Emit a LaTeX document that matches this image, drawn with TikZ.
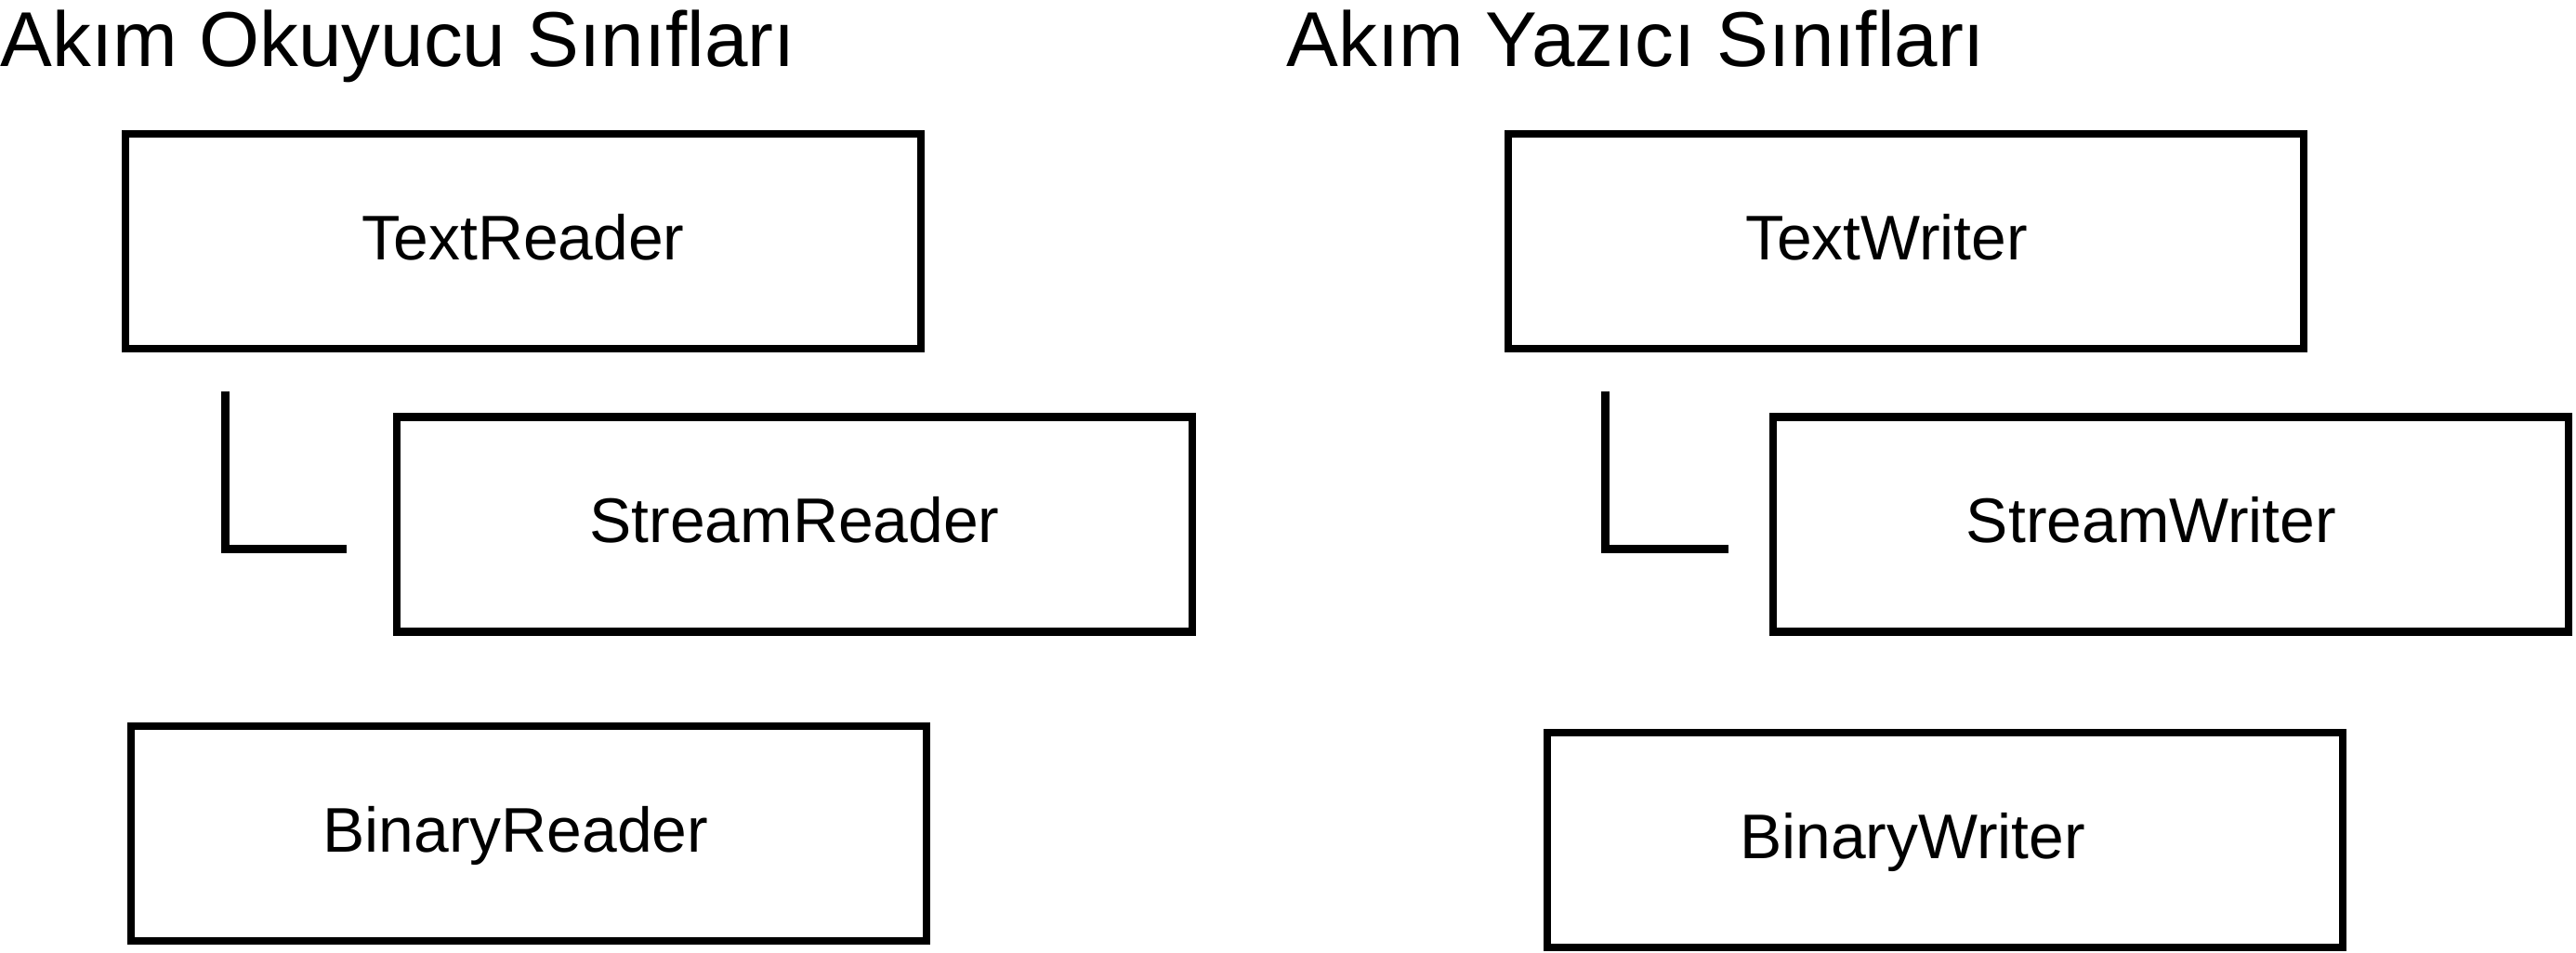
\documentclass[tikz,border=0pt]{standalone}
\usepackage{fontspec}
\setmainfont{Liberation Sans}
\usepackage{xcolor}

\begin{document}
\begin{tikzpicture}[
  kutu/.style={rectangle,draw,line width=0.085cm,inner sep=0pt,outer sep=0pt,minimum width=8.56cm,minimum height=2.31cm},  etiket/.style={anchor=base,inner sep=0pt,font=\fontsize{19.3pt}{22pt}\selectfont},  baslik/.style={anchor=base west,inner sep=0pt,font=\fontsize{23.8pt}{27pt}\selectfont},  kol/.style={line width=0.09cm}
]
  \useasboundingbox (0,0) rectangle (27.72,-10.24);
  \node[baslik] (t1) at (0.00,-0.71) {Akım Okuyucu Sınıfları};
  \node[baslik] (t2) at (13.84,-0.71) {Akım Yazıcı Sınıfları};
  \node[kutu] (tr) at (5.630,-2.595) {};
  \node[kutu] (sr) at (8.550,-5.640) {};
  \node[kutu] (br) at (5.690,-8.965) {};
  \node[kutu] (tw) at (20.510,-2.595) {};
  \node[kutu] (sw) at (23.360,-5.640) {};
  \node[kutu] (bw) at (20.930,-9.035) {};
  \node[etiket] at ([yshift=-0.195cm]tr.center) {TextReader};
  \node[etiket] at ([yshift=-0.195cm]sr.center) {StreamReader};
  \node[etiket] at ([xshift=-0.14cm,yshift=-0.195cm]br.center) {BinaryReader};
  \node[etiket] at ([xshift=-0.21cm,yshift=-0.195cm]tw.center) {TextWriter};
  \node[etiket] at ([xshift=-0.21cm,yshift=-0.195cm]sw.center) {StreamWriter};
  \node[etiket] at ([xshift=-0.35cm,yshift=-0.195cm]bw.center) {BinaryWriter};
  \draw[kol] ([xshift=1.07cm,yshift=-0.46cm]tr.south west) |- ([xshift=-0.54cm,yshift=-1.42cm]sr.north west);
  \draw[kol] ([xshift=1.04cm,yshift=-0.46cm]tw.south west) |- ([xshift=-0.48cm,yshift=-1.42cm]sw.north west);
\end{tikzpicture}
\end{document}
